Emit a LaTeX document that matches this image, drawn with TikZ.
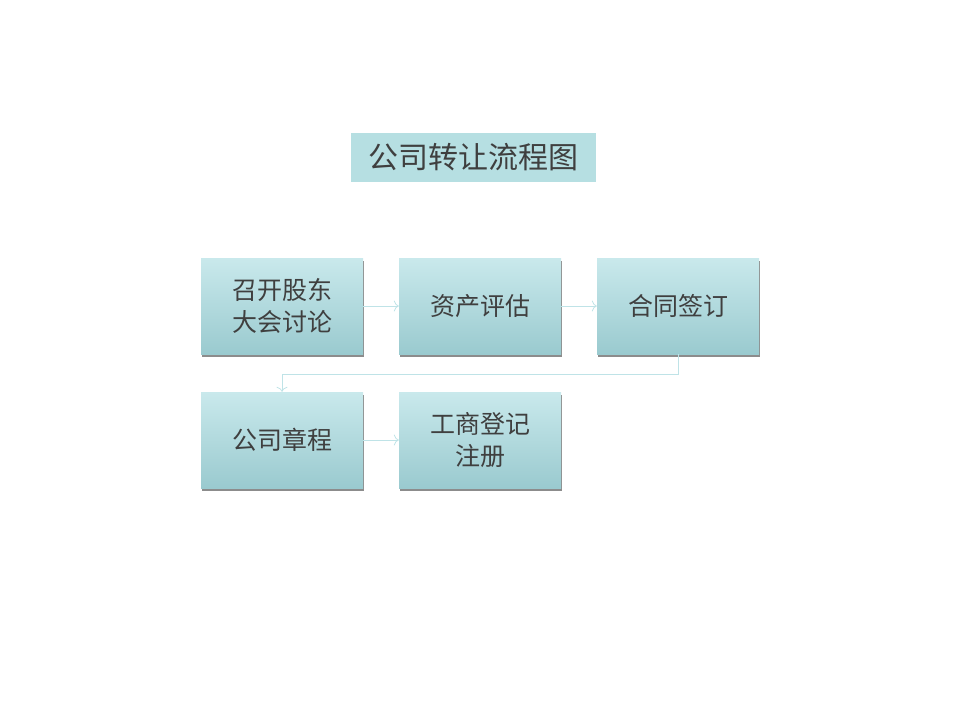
\documentclass[tikz,border=0pt]{standalone}
\usepackage{fontspec}
\newfontfamily\cjk{Noto Sans CJK SC}
\usepackage{xcolor}
\usetikzlibrary{calc,arrows.meta,shadows}

\definecolor{boxtop}{HTML}{C9E9EC}
\definecolor{boxbot}{HTML}{9ACACF}
\definecolor{titlefill}{HTML}{B6DFE2}
\definecolor{txtgray}{HTML}{3F3F3F}
\definecolor{linecyan}{HTML}{BFE3E7}

\tikzset{
  stepbox/.style={minimum width=162pt, minimum height=96pt, inner sep=0pt,
    top color=boxtop, bottom color=boxbot, draw=none,
    drop shadow={shadow xshift=0.8pt, shadow yshift=-2.6pt, opacity=0.6, fill=black!75},
    font=\cjk\fontsize{25}{32}\selectfont, text=txtgray, align=center},
  titlebox/.style={minimum width=245pt, minimum height=49pt, inner sep=0pt,
    fill=titlefill, font=\cjk\fontsize{30}{36}\selectfont, text=txtgray},
  flow/.style={draw=linecyan, line width=0.8pt, -{To[length=5pt,width=11pt]}}
}

\begin{document}
\begin{tikzpicture}[x=1pt,y=-1pt]
\useasboundingbox (0,0) rectangle (960,720);
%% title
\node[titlebox] (title) at (473.5,157.5) {公司转让流程图};
%% steps
\node[stepbox] (meeting) at (282,306) {召开股东\\大会讨论};
\node[stepbox] (assess) at (480,306) {资产评估};
\node[stepbox] (contract) at (678,306) {合同签订};
\node[stepbox] (charter) at (282,440) {公司章程};
\node[stepbox] (register) at (480,440) {工商登记\\注册};
%% connectors
\draw[flow] (meeting) -- (assess);
\draw[flow] (assess) -- (contract);
\draw[flow] (contract.south) -- ++(0,20) -| (charter.north);
\draw[flow] (charter) -- (register);
\end{tikzpicture}
\end{document}
